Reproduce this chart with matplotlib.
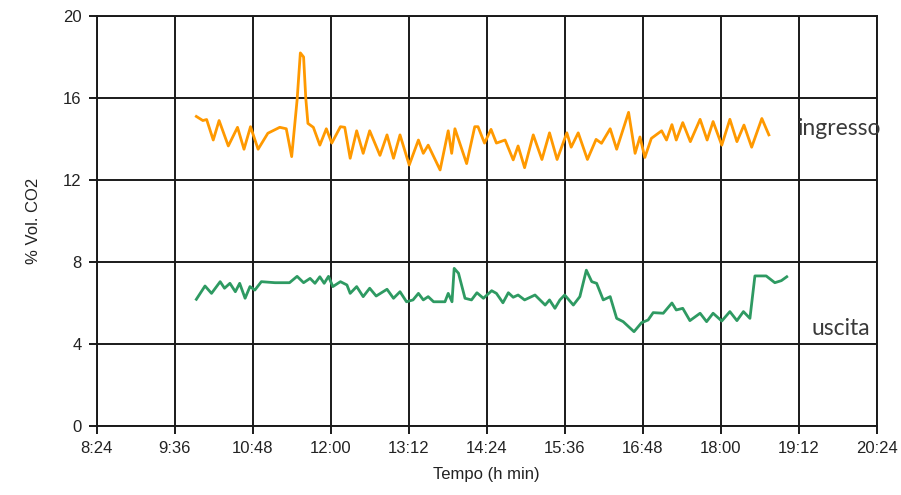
import numpy as np
import matplotlib
matplotlib.use("Agg")
import matplotlib.pyplot as plt

# Time in minutes after midnight, CO2 in % vol
t_ingresso = [596, 602, 605.5, 611.6, 617, 625.5, 634, 640, 646, 653, 662, 673, 679,
              684, 689, 692, 695, 697, 699, 704, 710, 716, 721, 729, 733, 738, 744,
              750, 756, 765.5, 772, 778, 784, 792.5, 801, 805.5, 810, 821, 828.5,
              831.7, 834.7, 845.5, 853, 856, 862, 868, 873, 881, 888.5, 893, 899,
              907, 915, 922, 929, 938, 942, 948.5, 957, 965, 970, 978, 984, 995,
              1001, 1005.5, 1010, 1016, 1025.5, 1030, 1035, 1039, 1045, 1052, 1061,
              1067.5, 1073, 1081, 1088.5, 1095, 1101.5, 1108.6, 1118, 1124.5]
co2_ingresso = [15.1, 14.9, 14.95, 13.95, 14.9, 13.66, 14.57, 13.5, 14.6, 13.5, 14.28,
                14.57, 14.5, 13.14, 15.9, 18.2, 18.0, 16.0, 14.76, 14.57, 13.7, 14.5,
                13.8, 14.6, 14.57, 13.06, 14.4, 13.3, 14.4, 13.2, 14.2, 13.06, 14.2,
                12.73, 13.95, 13.3, 13.7, 12.49, 14.4, 13.3, 14.5, 12.8, 14.6, 14.6,
                13.8, 14.47, 13.8, 13.95, 12.98, 13.66, 12.6, 14.2, 13.0, 14.3, 13.0,
                14.3, 13.6, 14.3, 13.0, 13.98, 13.79, 14.5, 13.5, 15.3, 13.3, 14.1,
                13.1, 14.03, 14.4, 13.95, 14.7, 13.95, 14.8, 13.87, 14.96, 13.95,
                14.85, 13.7, 14.96, 13.87, 14.68, 13.6, 15.0, 14.2]

t_uscita = [596, 604, 610, 618, 622, 627, 632, 636, 641, 645.5, 650, 656, 668.6, 682,
            689, 695, 701, 705.5, 710, 714, 718, 722, 729, 735, 738, 744, 750, 756,
            762, 772, 778, 784, 790, 796, 801, 805.5, 810, 815, 825.5, 828.5, 832,
            834, 838, 844, 850, 855, 861, 868.6, 873, 879, 884, 888.5, 893, 899,
            908.6, 918, 922, 927, 931.6, 936, 944, 950, 956, 961, 965.5, 971.6, 978,
            984, 990, 1000, 1007, 1013, 1017.7, 1027, 1035, 1039, 1045, 1051.6,
            1061, 1067, 1073, 1081, 1088.5, 1095, 1101, 1107, 1111.6, 1122, 1130,
            1136, 1141]
co2_uscita = [6.18, 6.83, 6.47, 7.04, 6.72, 6.96, 6.55, 6.96, 6.23, 6.8, 6.63, 7.04,
              6.99, 6.99, 7.3, 6.99, 7.2, 6.96, 7.28, 6.96, 7.3, 6.8, 7.04, 6.88, 6.47,
              6.8, 6.31, 6.72, 6.34, 6.67, 6.23, 6.55, 6.06, 6.15, 6.47, 6.15, 6.31,
              6.06, 6.06, 6.47, 6.06, 7.69, 7.45, 6.23, 6.15, 6.5, 6.23, 6.6, 6.47,
              6.01, 6.5, 6.28, 6.39, 6.15, 6.39, 5.9, 6.15, 5.74, 6.15, 6.39, 5.9,
              6.31, 7.6, 7.04, 6.96, 6.15, 6.31, 5.25, 5.09, 4.6, 5.04, 5.17, 5.53,
              5.5, 6.0, 5.66, 5.74, 5.14, 5.5, 5.09, 5.5, 5.12, 5.58, 5.14, 5.58, 5.25,
              7.32, 7.32, 6.99, 7.09, 7.28]

x_ticks = np.arange(504, 1225, 72)
x_labels = ["%d:%02d" % (m // 60, m % 60) for m in x_ticks]
y_ticks = [0, 4, 8, 12, 16, 20]

plt.rcParams['font.family'] = ['Liberation Sans', 'DejaVu Sans']

fig = plt.figure(figsize=(9.01, 4.95), dpi=100)
ax = fig.add_axes([0.1073, 0.1394, 0.8657, 0.8283])

ax.plot(t_ingresso, co2_ingresso, color="#FF9900", lw=2.0)
ax.plot(t_uscita, co2_uscita, color="#2E9A62", lw=2.0)

ax.set_xlim(504, 1224)
ax.set_ylim(0, 20)
ax.set_xticks(x_ticks)
ax.set_xticklabels(x_labels)
ax.set_yticks(y_ticks)
ax.grid(True, color="#1a1a1a", lw=1.4)
ax.set_axisbelow(True)
for s in ax.spines.values():
    s.set_color("#1a1a1a")
    s.set_linewidth(1.4)
ax.tick_params(direction="out", length=6, width=1.4, color="#1a1a1a",
               labelsize=12, pad=5, labelcolor="#222222")

ax.set_xlabel("Tempo (h min)", fontsize=12, color="#222222", labelpad=8)
ax.set_ylabel("% Vol. CO2", fontsize=12, color="#222222", labelpad=16)

# curve labels (Calibri-like look)
ax.text(1151, 14.2, "ingresso", fontsize=16.5, family=["Lato", "DejaVu Sans"],
        color="#3a3a3a", va="baseline")
ax.text(1164, 4.44, "uscita", fontsize=16.5, family=["Lato", "DejaVu Sans"],
        color="#3a3a3a", va="baseline")

fig.savefig("out.png", dpi=100, facecolor="white")
